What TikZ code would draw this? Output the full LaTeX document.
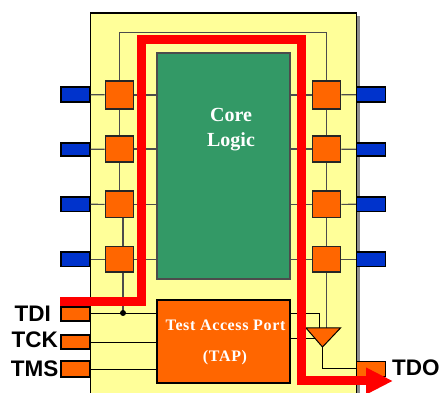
\documentclass[tikz,border=0pt]{standalone}
\usepackage{fontspec}
\setmainfont{Liberation Serif}
\newfontfamily\pinfont{Liberation Sans}
\usepackage{tikz}
\usetikzlibrary{arrows.meta}
\definecolor{chipyellow}{HTML}{FFFF99}
\definecolor{cellorange}{HTML}{FF6600}
\definecolor{coregreen}{HTML}{339966}
\definecolor{pinblue}{HTML}{0033CC}

\begin{document}
\begin{tikzpicture}[x=1pt,y=-1pt,
    cell/.style={draw=black!85,line width=1.3pt,fill=cellorange,inner sep=0pt,minimum width=28.5pt},
    pin/.style={draw=black,line width=1.3pt,fill=pinblue,inner sep=0pt,minimum width=29pt},
    tappin/.style={draw=black,line width=1.3pt,fill=cellorange,inner sep=0pt,minimum width=29pt},
    wire/.style={draw=black!70,line width=1.2pt},
    ctrl/.style={draw=black,line width=0.9pt},
    pinlabel/.style={inner sep=0pt,font=\pinfont\bfseries\fontsize{22.5}{24}\selectfont},
    corelabel/.style={inner sep=0pt,anchor=base,text=white,font=\bfseries\fontsize{20}{22}\selectfont},
    taplabel/.style={inner sep=0pt,anchor=base,text=white,font=\bfseries\fontsize{16}{18}\selectfont\addfontfeature{LetterSpace=4}}]
    \useasboundingbox (0,0) rectangle (440,393);

    \fill[black!45] (354,16) rectangle (359.5,393);
    \fill[chipyellow] (90.5,13) rectangle (356.5,393);
    \draw[line width=1.2pt] (90.5,393) -- (90.5,13) -- (356.5,13) -- (356.5,393);

    \node[draw=black!70,line width=1.2pt,fill=coregreen,inner sep=0pt,minimum width=133pt,minimum height=226pt] (core) at (223.5,166) {};
    \node[corelabel] (coreA) at (231,121.7) {Core};
    \node[corelabel] (coreB) at (231,146.7) {Logic};
    \node[draw=black,line width=1.2pt,fill=cellorange,inner sep=0pt,minimum width=133pt,minimum height=83pt] (tap) at (223.5,341.5) {};
    \node[taplabel] (tapA) at (225.5,330.7) {Test Access Port};
    \node[taplabel] (tapB) at (225,361.7) {(TAP)};

    \node[cell,minimum height=28pt] (cellLa) at (119.5,95) {};
    \node[cell,minimum height=26pt] (cellLb) at (119.5,149) {};
    \node[cell,minimum height=26.7pt] (cellLc) at (119.5,204.4) {};
    \node[cell,minimum height=25.5pt] (cellLd) at (119.5,259.3) {};
    \node[cell,minimum height=28pt] (cellRa) at (326.5,95) {};
    \node[cell,minimum height=26pt] (cellRb) at (326.5,149) {};
    \node[cell,minimum height=26.7pt] (cellRc) at (326.5,204.4) {};
    \node[cell,minimum height=25.5pt] (cellRd) at (326.5,259.3) {};

    \node[pin,minimum height=15pt] (pinLa) at (75.5,94.5) {};
    \node[pin,minimum height=13pt] (pinLb) at (75.5,149.5) {};
    \node[pin,minimum height=14.7pt] (pinLc) at (75.5,204.3) {};
    \node[pin,minimum height=14.7pt] (pinLd) at (75.5,259.3) {};
    \node[pin,minimum height=15pt] (pinRa) at (371,94.5) {};
    \node[pin,minimum height=13pt] (pinRb) at (371,149.5) {};
    \node[pin,minimum height=14.7pt] (pinRc) at (371,204.3) {};
    \node[pin,minimum height=14.7pt] (pinRd) at (371,259.3) {};

    \node[tappin,minimum height=14pt] (tdi) at (75.5,314) {};
    \node[tappin,minimum height=14pt] (tck) at (75.5,342) {};
    \node[tappin,minimum height=16pt] (tms) at (75.5,369) {};
    \node[tappin,minimum height=15pt] (tdo) at (371,369) {};
    \node[pinlabel,anchor=east] (tdiname) at (51,314) {TDI};
    \node[pinlabel,anchor=east] (tckname) at (58,340) {TCK};
    \node[pinlabel,anchor=east] (tmsname) at (58.5,369) {TMS};
    \node[pinlabel,anchor=west] (tdoname) at (392,368) {TDO};

    \draw[wire] (pinLa) -- (cellLa);
    \draw[wire] (pinLb) -- (cellLb);
    \draw[wire] (pinLc) -- (cellLc);
    \draw[wire] (pinLd) -- (cellLd);
    \draw[wire] (cellLa) -- (core.west |- cellLa);
    \draw[wire] (cellLb) -- (core.west |- cellLb);
    \draw[wire] (cellLc) -- (core.west |- cellLc);
    \draw[wire] (cellLd) -- (core.west |- cellLd);
    \draw[wire] (pinRa) -- (cellRa);
    \draw[wire] (pinRb) -- (cellRb);
    \draw[wire] (pinRc) -- (cellRc);
    \draw[wire] (pinRd) -- (cellRd);
    \draw[wire] (cellRa) -- (core.east |- cellRa);
    \draw[wire] (cellRb) -- (core.east |- cellRb);
    \draw[wire] (cellRc) -- (core.east |- cellRc);
    \draw[wire] (cellRd) -- (core.east |- cellRd);
    \coordinate (dot) at (123,313);
    \draw[wire] (cellLa) -- (cellLb);
    \draw[wire] (cellLb) -- (cellLc);
    \draw[wire] (cellLc.south -| dot) -- (cellLd.north -| dot);
    \draw[wire] (cellRa) -- (cellRb);
    \draw[wire] (cellRb) -- (cellRc);
    \draw[wire] (cellRc) -- (cellRd);
    \coordinate (topL) at (119.5,32.5);
    \coordinate (topR) at (326.5,32.5);
    \draw[wire] (cellLa) -- (topL) -- (topR) -- (cellRa);

    \coordinate (bufL) at (306,328);
    \coordinate (bufR) at (340.5,328);
    \coordinate (bufT) at (322.5,347);
    \draw[wire] (cellLd.south -| dot) -- (dot);
    \fill (dot) circle (3pt);
    \draw[ctrl] (tdi.east |- dot) -- (tap.west |- dot);
    \draw[ctrl] (tck) -- (tap.west |- tck);
    \draw[ctrl] (tms) -- (tap.west |- tms);
    \draw[ctrl] (tap.east |- dot) -- (319.5,313) -- (319.5,328);
    \draw[ctrl] (290,338) -- (316,338);
    \draw[wire] (cellRd) -- (326.5,328);
    \draw[black,line width=1pt,fill=cellorange] (bufL) -- (bufR) -- (bufT) -- cycle;
    \draw[ctrl] (bufT) -- (322.5,368) -- (tdo.west |- 322.5,368);

    \coordinate (redA) at (60,301.4);
    \coordinate (redB) at (141.5,301.4);
    \coordinate (redC) at (141.5,39.5);
    \coordinate (redD) at (301.5,39.5);
    \coordinate (redE) at (301.5,381);
    \coordinate (redF) at (393,381);
    \draw[red,line width=9pt,miter limit=3,-{Triangle[length=27pt,width=25pt]}] (redA) -- (redB) -- (redC) -- (redD) -- (redE) -- (redF);
\end{tikzpicture}
\end{document}
